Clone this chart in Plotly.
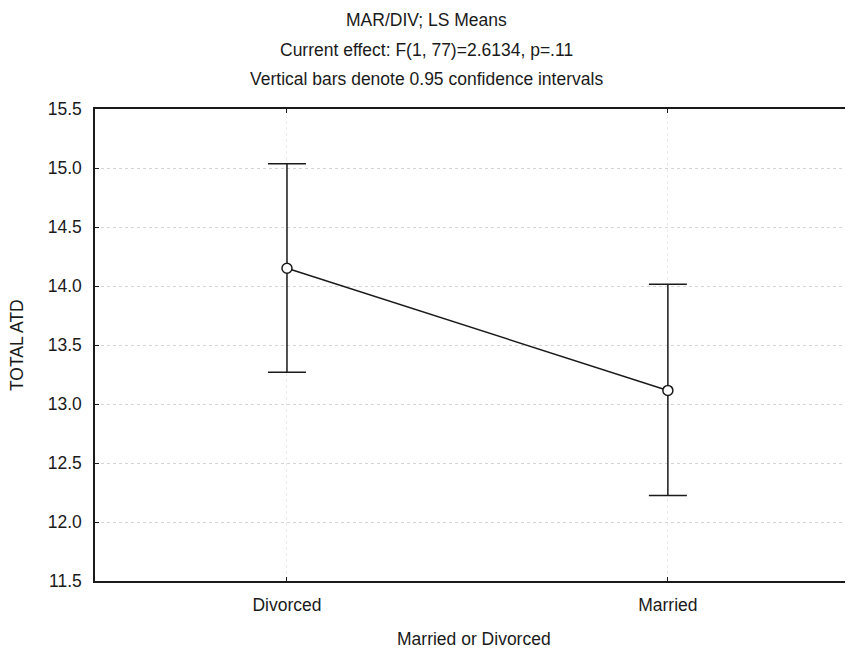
import plotly.graph_objects as go

categories = ["Divorced", "Married"]
means = [14.15, 13.115]
ci_upper = [15.035, 14.015]
ci_lower = [13.27, 12.225]
y_ticks = [11.5, 12.0, 12.5, 13.0, 13.5, 14.0, 14.5, 15.0, 15.5]

x_pos = list(range(len(categories)))
err_plus = [u - m for u, m in zip(ci_upper, means)]
err_minus = [m - l for m, l in zip(means, ci_lower)]

FONT = "Liberation Sans, Arial, sans-serif"
FS = 17.5
INK = "#1a1a1a"

fig = go.Figure()
fig.add_trace(go.Scatter(
    x=x_pos, y=means, mode="lines+markers",
    line=dict(color=INK, width=1.5),
    marker=dict(symbol="circle", size=10, color="white",
                line=dict(color=INK, width=1.5)),
    error_y=dict(type="data", symmetric=False, array=err_plus,
                 arrayminus=err_minus, width=19, thickness=1.5, color=INK),
    showlegend=False,
))

# page has an 8px body margin; figure is sized to compensate
fig.update_layout(
    width=845, height=642,
    margin=dict(l=87, r=0, t=101, b=69),
    paper_bgcolor="white", plot_bgcolor="white",
    font=dict(family=FONT, size=FS, color=INK),
)
fig.update_xaxes(
    range=[-0.504, 1.486], tickvals=x_pos, ticktext=categories,
    showline=True, linecolor=INK, linewidth=1.5, mirror="ticks",
    ticks="inside", ticklen=4, tickcolor=INK,
    showgrid=True, gridcolor="#ebebeb", griddash="dot", gridwidth=1,
    zeroline=False, ticklabelstandoff=7,
    tickfont=dict(family=FONT, size=FS, color=INK),
)
fig.update_yaxes(
    range=[11.5, 15.5], tickvals=y_ticks,
    ticktext=[f"{v:.1f}" for v in y_ticks],
    showline=True, linecolor=INK, linewidth=1.5, mirror=False,
    ticks="inside", ticklen=4, tickcolor=INK,
    showgrid=True, gridcolor="#d4d4d4", griddash="dot", gridwidth=1,
    zeroline=False, ticklabelstandoff=8,
    tickfont=dict(family=FONT, size=FS, color=INK),
)

titles = ["MAR/DIV; LS Means",
          "Current effect: F(1, 77)=2.6134, p=.11",
          "Vertical bars denote 0.95 confidence intervals"]
title_y = [1.1886, 1.125, 1.0636]
for t, yy in zip(titles, title_y):
    fig.add_annotation(text=t, xref="paper", yref="paper", x=0.437, y=yy,
                       xanchor="center", yanchor="middle", showarrow=False,
                       font=dict(family=FONT, size=FS, color=INK))

fig.add_annotation(text="Married or Divorced", xref="paper", yref="paper",
                   x=0.5, y=-0.1229, xanchor="center", yanchor="middle",
                   showarrow=False, font=dict(family=FONT, size=FS, color=INK))
fig.add_annotation(text="TOTAL ATD", xref="paper", yref="paper",
                   x=-0.1029, y=0.5, xanchor="center", yanchor="middle",
                   textangle=-90, showarrow=False,
                   font=dict(family=FONT, size=FS, color=INK))

fig.write_html("out.html")
